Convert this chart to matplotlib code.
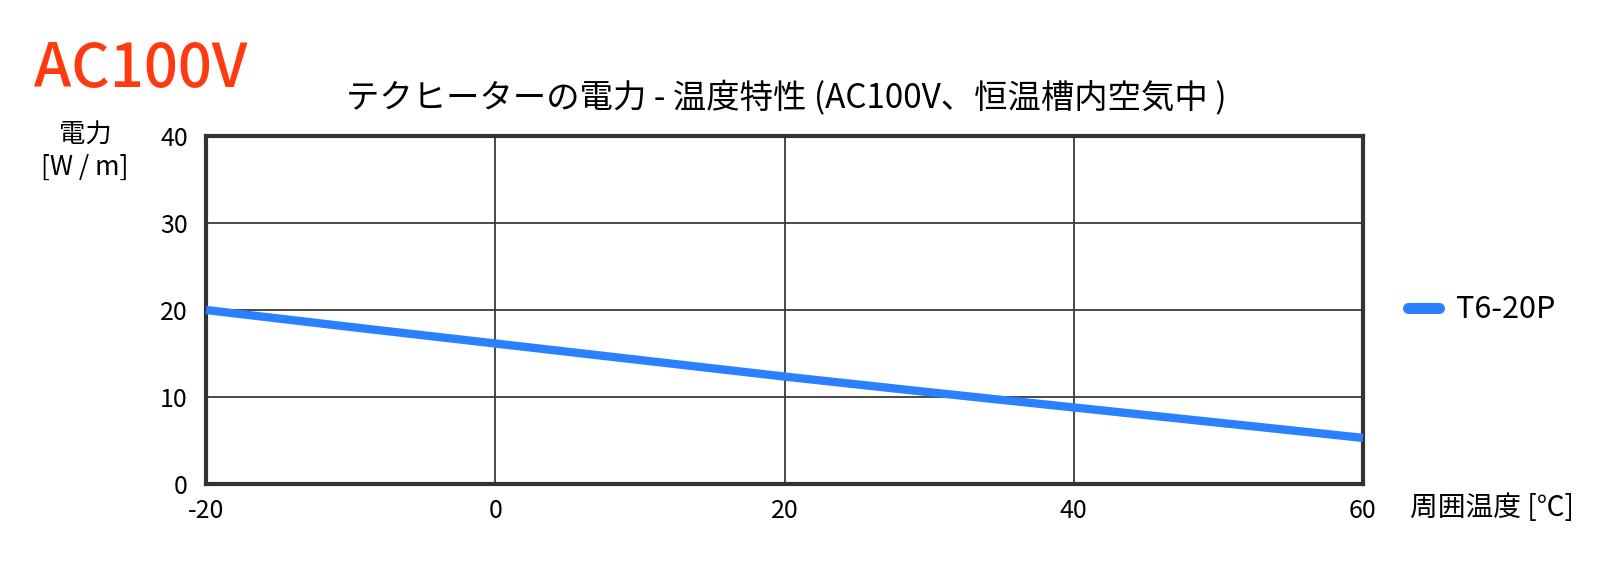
import matplotlib
matplotlib.use("Agg")
import matplotlib.pyplot as plt

plt.rcParams['font.family'] = ['Noto Sans CJK JP', 'DejaVu Sans']
plt.rcParams['axes.unicode_minus'] = False

# Data
temps = [-20, -10, 0, 10, 20, 30, 40, 50, 60]
power = [20.0, 18.05, 16.15, 14.25, 12.35, 10.55, 8.8, 7.05, 5.3]
series_name = "T6-20P"
x_ticks = [-20, 0, 20, 40, 60]
y_ticks = [0, 10, 20, 30, 40]
title = "テクヒーターの電力 - 温度特性 (AC100V、恒温槽内空気中 )"
badge = "AC100V"
ylabel = "電力\n[W / m]"
xlabel = "周囲温度 [℃]"

W, H = 1615, 561
fig = plt.figure(figsize=(W / 100, H / 100), dpi=100)
left, right, top, bottom = 206, 1363, 136, 484
ax = fig.add_axes([left / W, 1 - bottom / H, (right - left) / W, (bottom - top) / H])

line_color = '#2b80ff'
ax.plot(temps, power, color=line_color, lw=6, solid_capstyle='butt', label=series_name, zorder=3, clip_on=False)

ax.set_xlim(-20, 60)
ax.set_ylim(0, 40)
ax.set_xticks(x_ticks)
ax.set_yticks(y_ticks)
ax.grid(True, color='#3a3a3a', lw=1.3)
ax.set_axisbelow(True)
for s in ax.spines.values():
    s.set_color('#333333')
    s.set_linewidth(3)
ax.tick_params(length=0, labelsize=18, colors='black')
ax.tick_params(axis='y', pad=13)
ax.tick_params(axis='x', pad=10)

def fx(px):
    return px / W

def fy(py):
    return 1 - py / H

fig.text(fx(34), fy(70), badge, color='#ff3a10', fontsize=43, fontweight='medium', ha='left', va='center')
fig.text(fx(786), fy(98), title, fontsize=24, ha='center', va='center')
fig.text(fx(85), fy(151), ylabel, fontsize=19, ha='center', va='center', linespacing=1.25)
fig.text(fx(1410), fy(508), xlabel, fontsize=20, ha='left', va='center')

leg = ax.legend(loc='center left', bbox_to_anchor=(fx(1381), fy(310)), bbox_transform=fig.transFigure,
                frameon=False, fontsize=22, handlelength=1.0, handletextpad=0.55)
for l in leg.get_lines():
    l.set_solid_capstyle('round')
    l.set_linewidth(8)

fig.savefig('out.png', dpi=100, facecolor='white')
